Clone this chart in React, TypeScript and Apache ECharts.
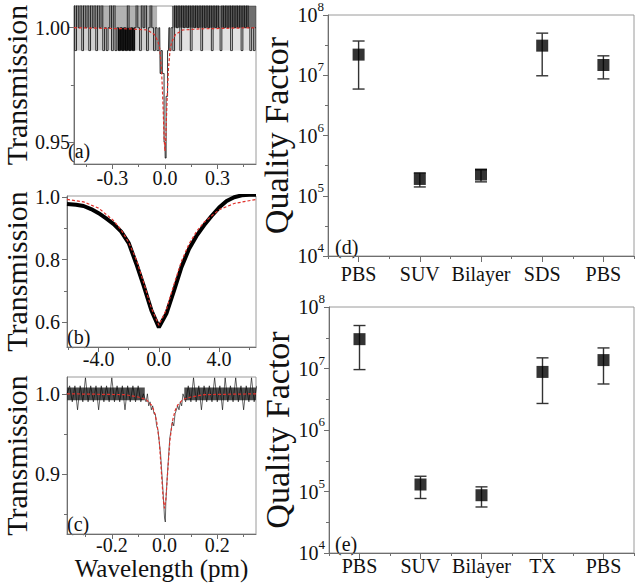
import React, { useEffect, useRef } from "react";
import * as echarts from "echarts";

// ---------- Panel (a) ----------
const aWave = [
  -0.52, -0.51, -0.5, -0.49, -0.48, -0.47, -0.46, -0.45, -0.44, -0.43, -0.42, -0.41, -0.4, -0.39, -0.38, -0.37,
  -0.36, -0.35, -0.34, -0.33, -0.32, -0.31, -0.3, -0.29, -0.28, -0.27, -0.26, -0.25, -0.24, -0.23, -0.22, -0.21,
  -0.2, -0.19, -0.18, -0.17, -0.16, -0.15, -0.14, -0.13, -0.12, -0.11, -0.1, -0.09, -0.08, -0.07, -0.06, -0.05,
  -0.04, -0.03, -0.025, -0.02, -0.01, 0.0, 0.003, 0.01, 0.02, 0.025, 0.03, 0.04, 0.05,
  0.06, 0.07, 0.08, 0.09, 0.1, 0.11, 0.12, 0.13, 0.14, 0.15, 0.16, 0.17, 0.18, 0.19, 0.2, 0.21, 0.22, 0.23,
  0.24, 0.25, 0.26, 0.27, 0.28, 0.29, 0.3, 0.31, 0.32, 0.33, 0.34, 0.35, 0.36, 0.37, 0.38, 0.39, 0.4, 0.41,
  0.42, 0.43, 0.44, 0.45, 0.46, 0.47, 0.48, 0.49, 0.5, 0.51, 0.52,
];
const aTrans = [
  1.01, 0.99, 1.01, 1.0, 1.01, 0.99, 1.01, 1.0, 1.01, 0.99, 1.01, 1.0, 1.01, 0.99, 1.01, 1.0,
  1.01, 0.99, 1.0, 0.99, 1.0, 1.01, 0.99, 1.01, 0.99, 1.0, 0.99, 1.0, 0.99, 1.0, 0.99, 1.01,
  0.99, 1.0, 0.99, 1.0, 1.01, 1.0, 0.99, 1.01, 1.0, 1.01, 0.99, 1.0, 1.01, 1.0, 0.99, 1.0,
  0.99, 1.0, 0.98, 0.99, 0.98, 0.95, 0.943, 0.97, 0.99, 1.0, 0.99, 1.0, 0.99,
  1.01, 1.0, 1.01, 0.99, 1.01, 1.0, 1.01, 1.0, 1.01, 0.99, 1.01, 1.0, 1.01, 1.0, 1.01, 0.99, 1.01, 1.0,
  1.01, 1.0, 1.01, 0.99, 1.01, 1.0, 1.01, 1.0, 0.99, 1.01, 1.0, 1.01, 1.0, 1.01, 0.99, 1.01, 1.0, 1.01,
  1.0, 1.01, 0.99, 1.01, 1.0, 1.01, 1.0, 0.99, 1.0, 0.99, 1.0,
];
// dense-noise envelope of (a): [x from, x to] and [low, high] levels
const aBandLeft = [-0.52, -0.045];
const aBandRight = [0.04, 0.52];
const aBlock = [-0.27, -0.17];
const aBandUpper = [1.0, 1.01];
const aBandLower = [0.99, 1.0];
const aFitWave = [-0.52, -0.2, -0.1, -0.06, -0.04, -0.03, -0.02, -0.015, -0.01, -0.005, 0, 0.005, 0.01, 0.015, 0.02, 0.03, 0.04, 0.06, 0.1, 0.2, 0.52];
const aFit = [1.0, 0.9995, 0.999, 0.997, 0.994, 0.991, 0.982, 0.974, 0.964, 0.952, 0.946, 0.952, 0.964, 0.974, 0.982, 0.991, 0.994, 0.997, 0.999, 0.9995, 1.0];
const aXLabels = [-0.3, 0, 0.3];
const aXMinor = [-0.45, -0.15, 0.15, 0.45];
const aYLabels = [0.95, 1.0];
const aYMinor = [0.975];

// ---------- Panel (b) ----------
const bWave = [-6.1, -5.5, -5.0, -4.5, -4.0, -3.5, -3.0, -2.5, -2.0, -1.5, -1.0, -0.5, 0, 0.5, 1.0, 1.5, 2.0, 2.5, 3.0, 3.5, 4.0, 4.5, 5.0, 5.5, 6.0, 6.45];
const bTrans = [0.978, 0.976, 0.972, 0.962, 0.949, 0.932, 0.914, 0.89, 0.853, 0.787, 0.715, 0.638, 0.583, 0.627, 0.7, 0.776, 0.834, 0.876, 0.91, 0.94, 0.967, 0.988, 1.0, 1.006, 1.008, 1.008];
const bFitWave = [-6.1, -5, -4, -3, -2.5, -2, -1.5, -1, -0.5, 0, 0.5, 1, 1.5, 2, 2.5, 3, 4, 5, 6.45];
const bFit = [0.993, 0.985, 0.965, 0.925, 0.895, 0.855, 0.8, 0.725, 0.645, 0.59, 0.64, 0.72, 0.795, 0.85, 0.89, 0.92, 0.96, 0.98, 0.993];
const bXLabels = [-4, 0, 4];
const bXMinor = [-6, -2, 2, 6];
const bYLabels = [0.6, 0.8, 1.0];
const bYMinor = [0.7, 0.9];

// ---------- Panel (c) ----------
const cWave = [
  -0.37, -0.36, -0.35, -0.34, -0.33, -0.32, -0.31, -0.3, -0.29, -0.28, -0.27, -0.26, -0.25, -0.24, -0.23,
  -0.22, -0.21, -0.2, -0.19, -0.18, -0.17, -0.16, -0.15, -0.14, -0.13, -0.12, -0.11, -0.1, -0.09, -0.08,
  -0.07, -0.065, -0.06, -0.055, -0.05, -0.045, -0.04, -0.035, -0.03, -0.025, -0.02, -0.015, -0.01, -0.005,
  0, 0.003, 0.005, 0.01, 0.015, 0.02, 0.025, 0.03, 0.035, 0.04, 0.045, 0.05, 0.055, 0.06, 0.065, 0.07,
  0.08, 0.09, 0.1, 0.11, 0.12, 0.13, 0.14, 0.15, 0.16, 0.17, 0.18, 0.19, 0.2, 0.21, 0.22, 0.23, 0.24,
  0.25, 0.26, 0.27, 0.28, 0.29, 0.3, 0.31, 0.32, 0.33, 0.34, 0.35,
];
const cTrans = [
  1.0, 1.01, 0.99, 1.01, 0.98, 1.01, 0.99, 1.02, 0.99, 1.01, 0.99, 1.01, 0.98, 1.01, 0.99,
  1.01, 0.99, 1.02, 0.99, 1.01, 0.99, 1.01, 0.98, 1.01, 0.99, 1.01, 0.99, 1.01, 0.99, 1.0,
  0.99, 1.0, 0.985, 0.99, 0.98, 0.985, 0.975, 0.975, 0.96, 0.955, 0.94, 0.925, 0.9, 0.875,
  0.845, 0.84, 0.865, 0.895, 0.92, 0.945, 0.955, 0.965, 0.96, 0.975, 0.98, 0.985, 0.98, 0.99, 0.985, 1.0,
  0.99, 1.01, 0.99, 1.02, 0.99, 1.01, 0.98, 1.01, 0.99, 1.01, 0.99, 1.02, 0.99, 1.01, 0.98, 1.02, 0.99,
  1.01, 0.99, 1.02, 0.99, 1.01, 0.98, 1.01, 0.99, 1.02, 0.99, 1.01,
];
const cBandLeft = [-0.37, -0.075];
const cBandRight = [0.075, 0.35];
const cBandLevels = [0.992, 1.008];
const cFitWave = [-0.37, -0.15, -0.1, -0.07, -0.05, -0.04, -0.03, -0.02, -0.015, -0.01, -0.005, 0, 0.005, 0.01, 0.015, 0.02, 0.03, 0.04, 0.05, 0.07, 0.1, 0.15, 0.35];
const cFit = [1.0, 0.999, 0.996, 0.993, 0.986, 0.979, 0.966, 0.941, 0.917, 0.893, 0.868, 0.857, 0.868, 0.893, 0.917, 0.941, 0.966, 0.979, 0.986, 0.993, 0.996, 0.999, 1.0];
const cXLabels = [-0.2, 0, 0.2];
const cXMinor = [-0.3, -0.1, 0.1, 0.3];
const cYLabels = [0.9, 1.0];
const cYMinor = [0.85, 0.95];

// ---------- Panel (d) ----------
const dCats = ["PBS", "SUV", "Bilayer", "SDS", "PBS"];
const dQ = [2.2e7, 1.9e5, 2.25e5, 3.1e7, 1.48e7];
const dHi = [3.7e7, 2.4e5, 2.7e5, 5.0e7, 2.1e7];
const dLo = [5.9e6, 1.4e5, 1.7e5, 9.8e6, 8.7e6];

// ---------- Panel (e) ----------
const eCats = ["PBS", "SUV", "Bilayer", "TX", "PBS"];
const eQ = [3.0e7, 1.3e5, 8.7e4, 8.8e6, 1.37e7];
const eHi = [5.0e7, 1.77e5, 1.19e5, 1.49e7, 2.16e7];
const eLo = [9.6e6, 7.7e4, 5.6e4, 2.7e6, 5.6e6];

const qDecades = [1e4, 1e5, 1e6, 1e7, 1e8];
const qMinor = [3.162e4, 3.162e5, 3.162e6, 3.162e7];

const FONT = "Liberation Serif";
const AX = "#6e6e6e";
const FRAME = "#9a9a9a";
const TXT = "#111";

function fmt1(v: number) {
  const s = v.toFixed(1);
  return s === "-0.0" ? "0.0" : s;
}

function valuePair(kind: "x" | "y", grid: number, min: number, max: number, majors: number[], minors: number[], formatter: (v: number) => string, margin: number, extra: any = {}) {
  const position = kind === "x" ? "bottom" : "left";
  const main = {
    type: "value",
    gridIndex: grid,
    min,
    max,
    position,
    splitLine: { show: false },
    axisLine: { show: true, onZero: false, lineStyle: { color: AX, width: 1 } },
    axisTick: { show: true, length: 5, customValues: majors, lineStyle: { color: AX } },
    axisLabel: { customValues: majors, formatter, margin, fontSize: 20, fontFamily: FONT, color: TXT },
    ...extra,
  };
  const minor = {
    type: "value",
    gridIndex: grid,
    min,
    max,
    position,
    splitLine: { show: false },
    axisLine: { show: false, onZero: false },
    axisTick: { show: true, length: 3, customValues: minors, lineStyle: { color: AX } },
    axisLabel: { show: false },
  };
  return [main, minor];
}

function logPair(grid: number, extra: any = {}) {
  const main = {
    type: "log",
    logBase: 10,
    gridIndex: grid,
    min: 1e4,
    max: 1e8,
    position: "left",
    splitLine: { show: false },
    axisLine: { show: true, onZero: false, lineStyle: { color: AX } },
    axisTick: { show: true, length: 5, customValues: qDecades, lineStyle: { color: AX } },
    axisLabel: {
      customValues: qDecades,
      margin: 4,
      formatter: (v: number) => `{b|10}{s|${Math.round(Math.log10(v))}}`,
      rich: {
        b: { fontSize: 20, fontFamily: FONT, color: TXT, padding: [5, 0, 5, 0], verticalAlign: "bottom" },
        s: { fontSize: 13, fontFamily: FONT, color: TXT, verticalAlign: "top" },
      },
    },
    name: "Quality Factor",
    nameLocation: "middle",
    nameGap: 30,
    nameTextStyle: { fontSize: 34, fontFamily: FONT, color: TXT },
    ...extra,
  };
  const minor = {
    type: "log",
    logBase: 10,
    gridIndex: grid,
    min: 1e4,
    max: 1e8,
    position: "left",
    splitLine: { show: false },
    axisLine: { show: false, onZero: false },
    axisTick: { show: true, length: 3, customValues: qMinor, lineStyle: { color: AX } },
    axisLabel: { show: false },
  };
  return [main, minor];
}

function catPair(grid: number, cats: string[], margin: number) {
  const main = {
    type: "category",
    gridIndex: grid,
    data: cats,
    position: "bottom",
    boundaryGap: true,
    axisLine: { show: true, onZero: false, lineStyle: { color: AX } },
    axisTick: { show: true, alignWithLabel: true, length: 6, interval: 0, lineStyle: { color: AX } },
    axisLabel: { interval: 0, margin, fontSize: 20, fontFamily: FONT, color: TXT },
    splitLine: { show: false },
  };
  const minor = {
    type: "category",
    gridIndex: grid,
    data: cats,
    position: "bottom",
    boundaryGap: true,
    axisLine: { show: false, onZero: false },
    axisTick: { show: true, length: 3, interval: 0, lineStyle: { color: AX } },
    axisLabel: { show: false },
    splitLine: { show: false },
  };
  return [main, minor];
}

function zip(xs: number[], ys: number[]) {
  return xs.map((x, i) => [x, ys[i]]);
}

function dataLine(axis: number, xs: number[], ys: number[], width: number, opacity: number, step: any = false) {
  return {
    type: "line",
    xAxisIndex: axis,
    yAxisIndex: axis,
    data: zip(xs, ys),
    showSymbol: false,
    symbol: "none",
    step,
    clip: true,
    lineStyle: { color: "#000", width, opacity },
    z: 2,
  };
}

// filled band between two levels across an x range (noise envelope)
function band(axis: number, range: number[], levels: number[], color: string, opacity: number) {
  return {
    type: "line",
    xAxisIndex: axis,
    yAxisIndex: axis,
    data: range.map((x) => [x, levels[1]]),
    showSymbol: false,
    symbol: "none",
    clip: true,
    silent: true,
    lineStyle: { width: 0, opacity: 0 },
    areaStyle: { origin: levels[0], color, opacity },
    z: 1,
  };
}

function fitLine(axis: number, xs: number[], ys: number[]) {
  return {
    type: "line",
    xAxisIndex: axis,
    yAxisIndex: axis,
    data: zip(xs, ys),
    showSymbol: false,
    symbol: "none",
    clip: true,
    lineStyle: { color: "#e0302a", width: 1.2, type: [3, 2] },
    z: 3,
  };
}

function errorBars(axis: number, lo: number[], hi: number[]) {
  return {
    type: "custom",
    xAxisIndex: axis,
    yAxisIndex: axis,
    data: lo.map((l, i) => [i, l, hi[i]]),
    encode: { x: 0, y: [1, 2] },
    z: 2,
    renderItem: (params: any, api: any) => {
      const i = api.value(0);
      const pLo = api.coord([i, api.value(1)]);
      const pHi = api.coord([i, api.value(2)]);
      const w = 6;
      const st = { stroke: "#333", lineWidth: 1.4 };
      return {
        type: "group",
        children: [
          { type: "line", shape: { x1: pHi[0], y1: pHi[1], x2: pLo[0], y2: pLo[1] }, style: st },
          { type: "line", shape: { x1: pHi[0] - w, y1: pHi[1], x2: pHi[0] + w, y2: pHi[1] }, style: st },
          { type: "line", shape: { x1: pLo[0] - w, y1: pLo[1], x2: pLo[0] + w, y2: pLo[1] }, style: st },
        ],
      };
    },
  };
}

function markers(axis: number, q: number[]) {
  return {
    type: "scatter",
    xAxisIndex: axis,
    yAxisIndex: axis,
    data: q.map((v, i) => [i, v]),
    symbol: "rect",
    symbolSize: 12,
    itemStyle: { color: "#000" },
    z: 3,
  };
}

function panelLabel(text: string, x: number, y: number) {
  return {
    type: "text",
    left: x,
    top: y,
    style: { text, font: `20px "${FONT}"`, fill: TXT },
  };
}

export default function App() {
  const ref = useRef<HTMLDivElement>(null);
  useEffect(() => {
    if (!ref.current) return;
    const chart = echarts.init(ref.current, undefined, { renderer: "svg" });
    const gridBase = { show: true, borderColor: FRAME, borderWidth: 1, backgroundColor: "transparent", containLabel: false };
    const transName = { name: "Transmission", nameLocation: "middle", nameGap: 36, nameTextStyle: { fontSize: 30, fontFamily: FONT, color: TXT } };

    const xAxes = [
      ...valuePair("x", 0, -0.52, 0.52, aXLabels, aXMinor, fmt1, 4),
      ...valuePair("x", 1, -6.1, 6.45, bXLabels, bXMinor, fmt1, 2),
      ...valuePair("x", 2, -0.37, 0.347, cXLabels, cXMinor, fmt1, 1, {
        name: "Wavelength (pm)",
        nameLocation: "middle",
        nameGap: 21,
        nameTextStyle: { fontSize: 25, fontFamily: FONT, color: TXT },
      }),
      ...catPair(3, dCats, 8),
      ...catPair(4, eCats, 3),
    ];
    const yAxes = [
      ...valuePair("y", 0, 0.9404, 1.0095, aYLabels, aYMinor, (v) => v.toFixed(2), 4, { ...transName, nameGap: 40 }),
      ...valuePair("y", 1, 0.52, 1.004, bYLabels, bYMinor, (v) => v.toFixed(1), 7, transName),
      ...valuePair("y", 2, 0.825, 1.021, cYLabels, cYMinor, (v) => v.toFixed(1), 7, transName),
      ...logPair(3),
      ...logPair(4, { nameGap: 32 }),
    ];

    chart.setOption({
      animation: false,
      backgroundColor: "#fff",
      textStyle: { fontFamily: FONT },
      grid: [
        { ...gridBase, left: 62, top: 6, width: 194, height: 158 },
        { ...gridBase, left: 62, top: 196, width: 194, height: 151 },
        { ...gridBase, left: 62, top: 377, width: 194, height: 157 },
        { ...gridBase, left: 328, top: 10, width: 306, height: 246 },
        { ...gridBase, left: 329, top: 307, width: 305, height: 246 },
      ],
      xAxis: xAxes,
      yAxis: yAxes,
      series: [
        band(0, aBandLeft, aBandUpper, "#666", 0.5),
        band(0, aBandLeft, aBandLower, "#888", 0.4),
        band(0, aBlock, aBandLower, "#000", 0.85),
        band(0, aBandRight, aBandUpper, "#222", 0.65),
        band(0, aBandRight, aBandLower, "#aaa", 0.35),
        dataLine(0, aWave, aTrans, 1, 0.8, "middle"),
        fitLine(0, aFitWave, aFit),
        dataLine(2, bWave, bTrans, 4, 1),
        fitLine(2, bFitWave, bFit),
        band(4, cBandLeft, cBandLevels, "#222", 0.8),
        band(4, cBandRight, cBandLevels, "#222", 0.8),
        dataLine(4, cWave, cTrans, 1, 0.6),
        fitLine(4, cFitWave, cFit),
        errorBars(6, dLo, dHi),
        markers(6, dQ),
        errorBars(8, eLo, eHi),
        markers(8, eQ),
      ],
      graphic: [
        panelLabel("(a)", 68, 141),
        panelLabel("(b)", 67, 327),
        panelLabel("(c)", 67, 514),
        panelLabel("(d)", 335, 237),
        panelLabel("(e)", 335, 534),
      ],
    });
    return () => chart.dispose();
  }, []);
  return <div ref={ref} style={{ position: "absolute", left: 0, top: 0, width: 636, height: 585, background: "#fff" }} />;
}
